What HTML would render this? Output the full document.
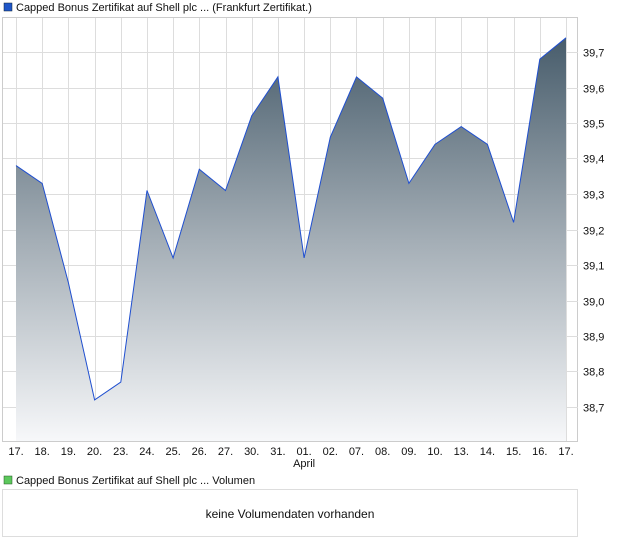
<!DOCTYPE html>
<html><head><meta charset="utf-8"><style>
body{margin:0;background:#fff;font-family:"Liberation Sans",sans-serif;}
</style></head><body>
<svg id="s" width="620" height="546" xmlns="http://www.w3.org/2000/svg" font-family="Liberation Sans, sans-serif" font-size="11">
<defs><linearGradient id="g" x1="0" y1="36" x2="0" y2="442" gradientUnits="userSpaceOnUse">
<stop offset="0" stop-color="#475c6b"/><stop offset="0.5" stop-color="#a3adb5"/><stop offset="1" stop-color="#f7f8fa"/></linearGradient></defs>
<rect x="4" y="3" width="8" height="8" fill="#1f56c8" stroke="#123" stroke-width="0.5"/>
<text x="16" y="11" fill="#111">Capped Bonus Zertifikat auf Shell plc ... (Frankfurt Zertifikat.)</text>
<rect x="2.5" y="17.5" width="575" height="424" fill="#fff" stroke="#ccc"/>
<g id="grid" stroke="#ddd" stroke-width="1"></g>
<polygon id="area" fill="url(#g)"/>
<polyline id="line" fill="none" stroke="#1f4fd0" stroke-width="1"/>
<g id="lab" fill="#111"></g>
<rect x="4" y="476" width="8" height="8" fill="#5cc85c" stroke="#252" stroke-width="0.5"/>
<text x="16" y="484" fill="#111">Capped Bonus Zertifikat auf Shell plc ... Volumen</text>
<rect x="2.5" y="489.5" width="575" height="47" fill="#fff" stroke="#ddd"/>
<text x="290" y="518" text-anchor="middle" font-size="12" fill="#111">keine Volumendaten vorhanden</text>
</svg>
<script>
var v=[39.38,39.33,39.05,38.72,38.77,39.31,39.12,39.37,39.31,39.52,39.63,39.12,39.46,39.63,39.57,39.33,39.44,39.49,39.44,39.22,39.68,39.74];
var d=["17.","18.","19.","20.","23.","24.","25.","26.","27.","30.","31.","01.","02.","07.","08.","09.","10.","13.","14.","15.","16.","17."];
var ns="http://www.w3.org/2000/svg";
function Y(x){return 52+(39.7-x)*355;}
function X(i){return 16+i*(566-16)/21;}
var g=document.getElementById("grid"),lab=document.getElementById("lab");
function el(t,a,p,txt){var e=document.createElementNS(ns,t);for(var k in a)e.setAttribute(k,a[k]);if(txt)e.textContent=txt;p.appendChild(e);}
for(var i=0;i<22;i++){var x=Math.round(X(i))+.5;el("line",{x1:x,y1:18,x2:x,y2:441},g);
el("text",{x:X(i),y:455,"text-anchor":"middle"},lab,d[i]);}
el("text",{x:X(11),y:467,"text-anchor":"middle"},lab,"April");
for(var k=0;k<=10;k++){var val=38.7+k*0.1,y=Math.round(Y(val))+.5;el("line",{x1:3,y1:y,x2:578,y2:y},g);
el("text",{x:583,y:y+4},lab,val.toFixed(1).replace(".",","));}
var pts=v.map(function(a,i){return X(i).toFixed(1)+","+Y(a).toFixed(1)}).join(" ");
document.getElementById("line").setAttribute("points",pts);
document.getElementById("area").setAttribute("points",X(0)+",441 "+pts+" "+X(21)+",441");
</script>
</body></html>
